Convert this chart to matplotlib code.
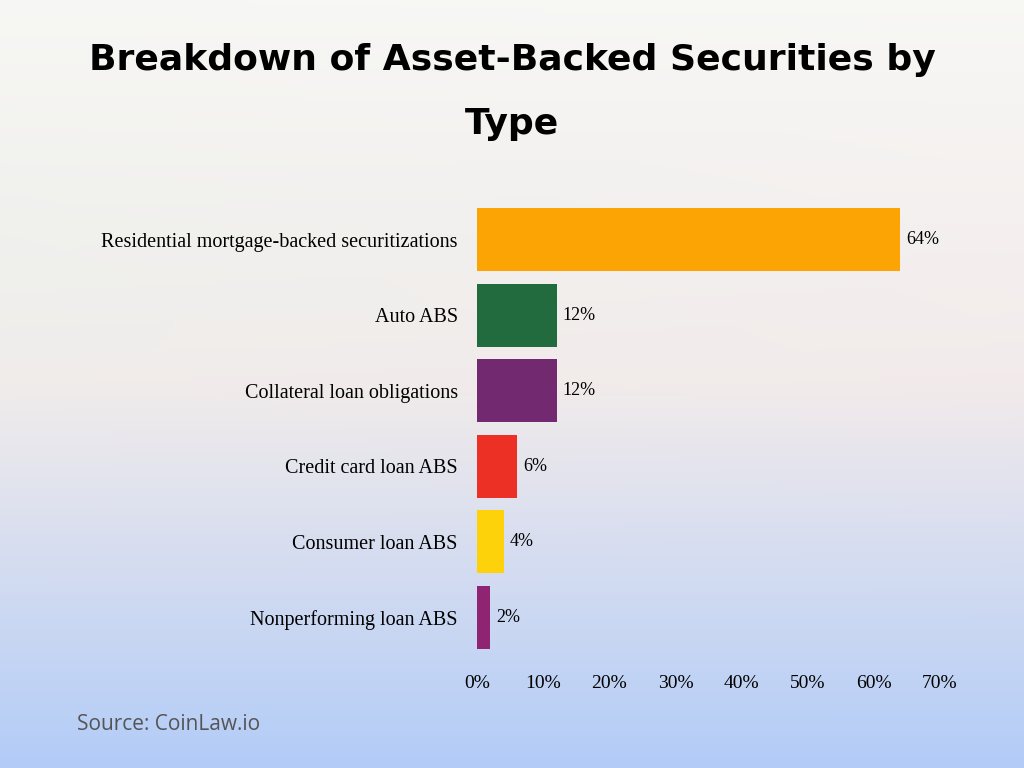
import matplotlib
matplotlib.use("Agg")
import matplotlib.pyplot as plt
import numpy as np

categories = ["Residential mortgage-backed securitizations", "Auto ABS",
              "Collateral loan obligations", "Credit card loan ABS",
              "Consumer loan ABS", "Nonperforming loan ABS"]
values = [64, 12, 12, 6, 4, 2]
colors = ["#FBA404", "#216B3F", "#73296F", "#EC3026", "#FDD20A", "#8E2472"]
xticks = [0, 10, 20, 30, 40, 50, 60, 70]

fig = plt.figure(figsize=(10.24, 7.68), dpi=100)
bg = fig.add_axes([0, 0, 1, 1], zorder=-1)
h, w = 200, 200
yy, xx = np.mgrid[0:1:h*1j, 0:1:w*1j]
top = np.array([0.97, 0.97, 0.96])
mid = np.array([0.95, 0.92, 0.92])
bot = np.array([0.70, 0.80, 0.97])
t = yy[..., None]
img = np.where(t < 0.5, top + (mid - top) * (t / 0.5), mid + (bot - mid) * ((t - 0.5) / 0.5))
left_tint = np.array([0.90, 0.95, 0.92])
g = 0.3 * (1 - xx[..., None]) * np.exp(-((yy[..., None] - 0.35) ** 2) / 0.05)
img = img * (1 - g) + left_tint * g
bg.imshow(np.clip(img, 0, 1), aspect="auto", extent=[0, 1, 0, 1], origin="upper")
bg.axis("off")

ax = fig.add_axes([0.466, 0.147, 0.452, 0.59])
ax.patch.set_alpha(0)
y = np.arange(len(categories))
ax.barh(y, values, height=0.83, color=colors)
ax.set_ylim(len(categories) - 0.5, -0.5)
ax.set_xlim(0, 70)
ax.set_yticks(y)
ax.set_yticklabels(categories, fontsize=14.5, family="Liberation Serif")
ax.set_xticks(xticks)
ax.set_xticklabels([f"{v}%" for v in xticks], fontsize=14, family="Liberation Serif")
ax.tick_params(axis="x", length=0, pad=14)
ax.tick_params(axis="y", length=0, pad=14)
for s in ax.spines.values():
    s.set_visible(False)
for yi, v in zip(y, values):
    ax.text(v + 0.9, yi, f"{v}%", va="center", ha="left", fontsize=13, family="Liberation Serif")

fig.text(0.5, 0.922, "Breakdown of Asset-Backed Securities by", ha="center", va="center",
         fontsize=26, weight="heavy", family="DejaVu Sans")
fig.text(0.5, 0.838, "Type", ha="center", va="center",
         fontsize=26, weight="heavy", family="DejaVu Sans")
fig.text(0.075, 0.057, "Source: CoinLaw.io", ha="left", va="center",
         fontsize=15, color="#555555", family="Open Sans")
fig.savefig("out.png", dpi=100)
